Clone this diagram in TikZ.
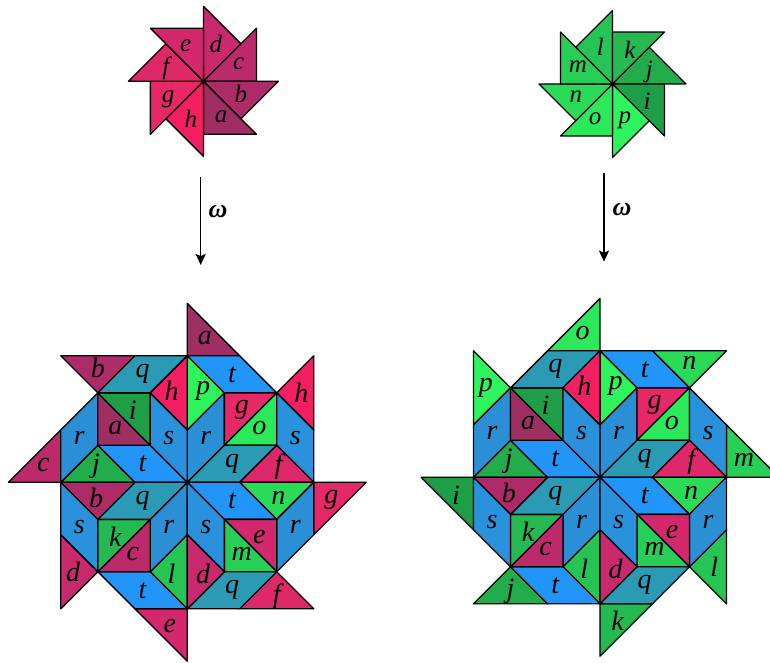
\documentclass[tikz,border=0pt]{standalone}
\usepackage{fontspec}
\setmainfont{Liberation Serif}
\usetikzlibrary{arrows.meta}
\definecolor{ca}{HTML}{9F2F63}
\definecolor{cb}{HTML}{AD2B68}
\definecolor{cc}{HTML}{BD2A6B}
\definecolor{cd}{HTML}{C92A6D}
\definecolor{ce}{HTML}{D3296C}
\definecolor{cf}{HTML}{DD296A}
\definecolor{cg}{HTML}{E62768}
\definecolor{ch}{HTML}{F41E63}
\definecolor{ci}{HTML}{1E9E47}
\definecolor{cj}{HTML}{22AC4C}
\definecolor{ck}{HTML}{24B951}
\definecolor{cl}{HTML}{26C454}
\definecolor{cm}{HTML}{28CE56}
\definecolor{cn}{HTML}{2ADB58}
\definecolor{co}{HTML}{2CE95B}
\definecolor{cp}{HTML}{2EF55E}
\definecolor{cq}{HTML}{2A9AB5}
\definecolor{cr}{HTML}{2B8FD6}
\definecolor{cs}{HTML}{2A92DC}
\definecolor{ct}{HTML}{2295F8}
\newcommand\qa{0.7071}
\newcommand\qb{1.7071}
\newcommand\qc{2.4142}
\newcommand\qd{3.4142}
\newcommand\pfx{L}
\newfontfamily\labfont{Liberation Serif}
\tikzset{
  tile/.style={draw=black,line width=1.3pt,line join=round},
  lab/.style={inner sep=0pt,font=\labfont\fontsize{28}{28}\selectfont\itshape},
  plab/.style={inner sep=0pt,font=\labfont\fontsize{25}{25}\selectfont\itshape},
  arr/.style={line width=1.4pt,-{Stealth[length=11pt,width=10pt,inset=2pt]}},
  omg/.style={inner sep=0pt,font=\labfont\fontsize{26}{26}\selectfont\bfseries\itshape}
}
% quadrant: #1 rotation, #2..#9 labels of the eight tiles
\newcommand\Quad[9]{%
\begin{scope}[rotate=#1]
  \filldraw[tile,fill=c#2] (0,\qc)--(\qa,\qb)--(0,1)--cycle;
  \filldraw[tile,fill=c#3] (0,\qc)--(1,\qc)--(\qb,\qb)--(\qa,\qb)--cycle;
  \filldraw[tile,fill=c#4] (0,0)--(0,1)--(\qa,\qb)--(\qa,\qa)--cycle;
  \filldraw[tile,fill=c#5] (\qa,\qb)--(\qb,\qb)--(\qa,\qa)--cycle;
  \filldraw[tile,fill=c#6] (\qb,\qb)--(\qb,\qa)--(\qa,\qa)--cycle;
  \filldraw[tile,fill=c#7] (\qb,\qb)--(\qc,1)--(\qc,0)--(\qb,\qa)--cycle;
  \filldraw[tile,fill=c#8] (0,0)--(\qa,\qa)--(\qb,\qa)--(1,0)--cycle;
  \filldraw[tile,fill=c#9] (\qb,\qa)--(\qc,0)--(1,0)--cycle;
  \node[lab] (\pfx#1n1) at (0.30,1.74) {#2};
  \node[lab] (\pfx#1n2) at (0.8536,2.0607) {#3};
  \node[lab] (\pfx#1n3) at (0.3536,0.8536) {#4};
  \node[lab] (\pfx#1n4) at (1.0404,1.3738) {#5};
  \node[lab] (\pfx#1n5) at (1.3738,1.0404) {#6};
  \node[lab] (\pfx#1n6) at (2.0607,0.8536) {#7};
  \node[lab] (\pfx#1n7) at (0.8536,0.3536) {#8};
  \node[lab] (\pfx#1n8) at (1.74,0.30) {#9};
\end{scope}}
\newcommand\Inner{%
  \Quad{0}{p}{t}{r}{g}{o}{s}{q}{f}%
  \Quad{90}{j}{r}{t}{a}{i}{q}{s}{h}%
  \Quad{180}{l}{t}{r}{c}{k}{s}{q}{b}%
  \Quad{270}{n}{r}{t}{e}{m}{q}{s}{d}%
  \fill (0,0) circle (2.2pt);}
\begin{document}
\begin{tikzpicture}[x=1pt,y=-1pt]
\useasboundingbox (0,0) rectangle (770,663);
\clip (0,0) rectangle (770,663);
% ---------- small pinwheels ----------
\begin{scope}[shift={(203.4pt,-81.3pt)},x=1pt,y=1pt]
  \foreach \ang/\lb in {90/d,45/c,0/b,-45/a,-90/h,-135/g,180/f,135/e}{
    \filldraw[tile,fill=c\lb] (0,0)--(\ang:75)--({\ang-45}:53.03)--cycle;
    \pgfmathsetmacro\cx{(75*cos(\ang)+53.03*cos(\ang-45))/3}
    \pgfmathsetmacro\cy{(75*sin(\ang)+53.03*sin(\ang-45))/3}
    \node[plab] (pw\lb) at (\cx,\cy) {\lb};
  }
  \fill (0,0) circle (2pt);
\end{scope}
\begin{scope}[shift={(612.5pt,-84pt)},x=1pt,y=1pt]
  \foreach \ang/\lb in {90/l,45/k,0/j,-45/i,-90/p,-135/o,180/n,135/m}{
    \filldraw[tile,fill=c\lb] (0,0)--(\ang:73.5)--({\ang+45}:51.97)--cycle;
    \pgfmathsetmacro\cx{(73.5*cos(\ang)+51.97*cos(\ang+45))/3}
    \pgfmathsetmacro\cy{(73.5*sin(\ang)+51.97*sin(\ang+45))/3}
    \node[plab] (pw\lb) at (\cx,\cy) {\lb};
  }
  \fill (0,0) circle (2pt);
\end{scope}
% ---------- arrows ----------
\coordinate (aLs) at (200.7,177.3);
\coordinate (aLe) at (200.7,265);
\coordinate (aRs) at (604,172.7);
\coordinate (aRe) at (604,261.7);
\draw[arr] (aLs) -- (aLe);
\draw[arr] (aRs) -- (aRe);
\node[omg] (omL) at (218,212) {ω};
\node[omg] (omR) at (622,209.5) {ω};
% ---------- left big patch ----------
\begin{scope}[shift={(187.3pt,-482.3pt)},x=52.4pt,y=52.4pt]
  \foreach \rot/\lb in {0/a,-45/h,-90/g,-135/f,180/e,135/d,90/c,45/b}{
    \begin{scope}[rotate=\rot]
      \filldraw[tile,fill=c\lb] (0,\qd)--(0,\qc)--(1,\qc)--cycle;
      \node[lab] (Lo\lb) at (0.3333,2.7475) {\lb};
    \end{scope}
  }
  \renewcommand\pfx{L}
  \Inner
\end{scope}
% ---------- right big patch ----------
\begin{scope}[shift={(600pt,-477.3pt)},x=52.4pt,y=52.4pt]
  \foreach \rot/\lb in {0/o,-45/n,-90/m,-135/l,180/k,135/j,90/i,45/p}{
    \begin{scope}[rotate=\rot]
      \filldraw[tile,fill=c\lb] (0,\qd)--(0,\qc)--(-1,\qc)--cycle;
      \node[lab] (Ro\lb) at (-0.3333,2.7475) {\lb};
    \end{scope}
  }
  \renewcommand\pfx{R}
  \Inner
\end{scope}
\end{tikzpicture}
\end{document}
